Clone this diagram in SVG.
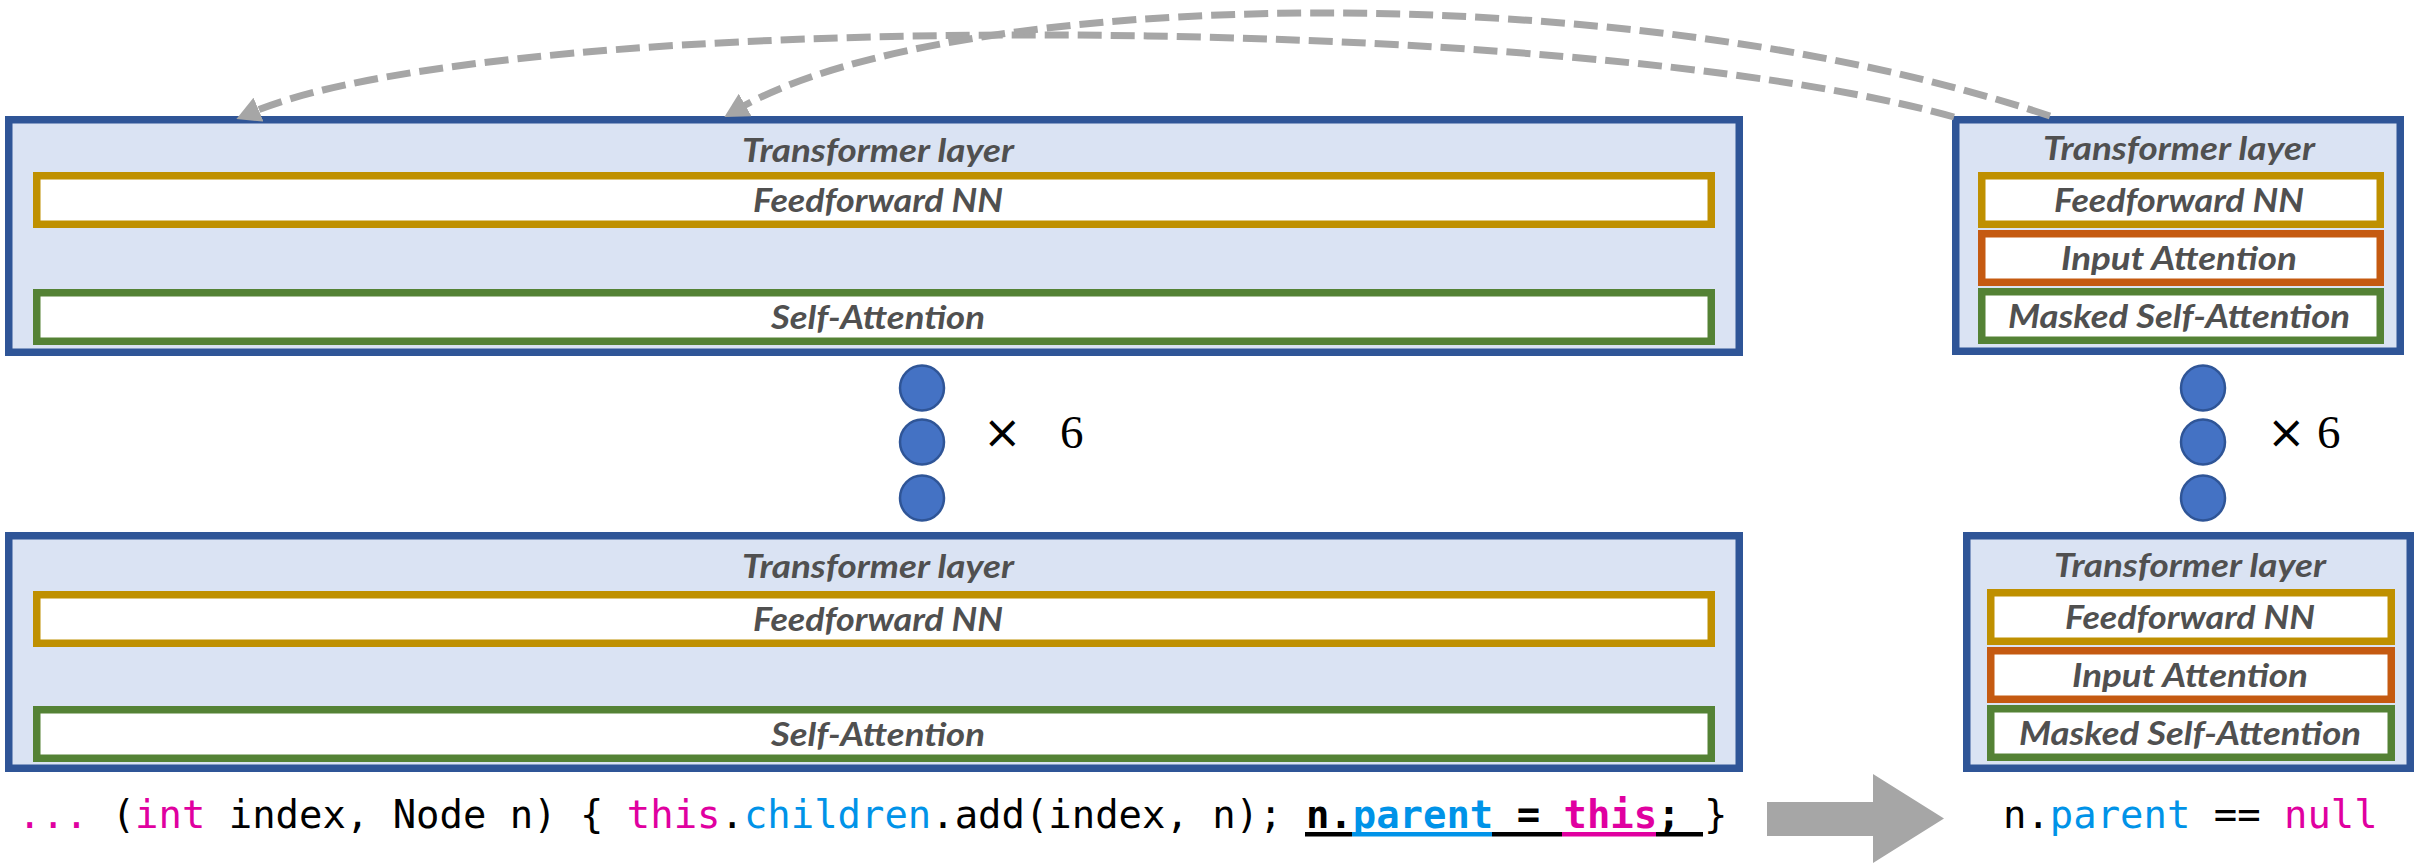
<svg xmlns="http://www.w3.org/2000/svg" width="2433" height="865" viewBox="0 0 2433 865">
  <style>
    .layer { fill: #DAE3F3; stroke: #2F5597; stroke-width: 7.5; }
    .ff { fill: #FFFFFF; stroke: #BF9000; stroke-width: 7.5; }
    .ia { fill: #FFFFFF; stroke: #C55A11; stroke-width: 7.5; }
    .sa { fill: #FFFFFF; stroke: #548235; stroke-width: 7.5; }
    .lbl { font-family: Lato, "Open Sans", "DejaVu Sans", sans-serif; font-weight: bold; font-style: italic; font-size: 33px; fill: #505050; text-anchor: middle; }
    .dot { fill: #4472C4; stroke: #2F5597; stroke-width: 2.5; }
    .times { font-family: "Liberation Serif", "DejaVu Serif", serif; font-size: 47px; fill: #000000; }
    .mul { font-family: "DejaVu Sans", sans-serif; font-size: 46px; }
    .code { font-family: "DejaVu Sans Mono", "Liberation Mono", monospace; font-size: 38.9px; fill: #000000; }
    .kw { fill: #E000A0; }
    .fld { fill: #0093E8; }
    .dash { fill: none; stroke: #A6A6A6; stroke-width: 7; stroke-dasharray: 24 9; marker-end: url(#ah); }
  </style>
  <defs>
    <marker id="ah" markerUnits="userSpaceOnUse" markerWidth="24" markerHeight="26" viewBox="0 0 24 26" refX="6" refY="13" orient="auto">
      <path d="M0,0 L24,13 L0,26 z" fill="#A6A6A6"/>
    </marker>
  </defs>

  <rect width="2433" height="865" fill="#FFFFFF"/>

  <!-- encoder stack: top layer -->
  <g id="enc-top">
    <rect class="layer" x="8.75" y="119.75" width="1730.5" height="232.5"/>
    <text class="lbl" x="878" y="162" textLength="272" lengthAdjust="spacingAndGlyphs">Transformer layer</text>
    <rect class="ff" x="36.75" y="175.75" width="1674.5" height="48.5"/>
    <text class="lbl" x="878" y="212" textLength="250" lengthAdjust="spacingAndGlyphs">Feedforward NN</text>
    <rect class="sa" x="36.75" y="292.75" width="1674.5" height="48.5"/>
    <text class="lbl" x="878" y="329" textLength="214" lengthAdjust="spacingAndGlyphs">Self-Attention</text>
  </g>

  <!-- encoder stack: repetition marker -->
  <g id="enc-repeat">
    <ellipse class="dot" cx="922" cy="388" rx="22" ry="22.5"/>
    <ellipse class="dot" cx="922" cy="442" rx="22" ry="22.5"/>
    <ellipse class="dot" cx="922" cy="498" rx="22" ry="22.5"/>
    <text class="times" y="448"><tspan class="mul" x="983">×</tspan><tspan x="1060">6</tspan></text>
  </g>

  <!-- encoder stack: bottom layer -->
  <g id="enc-bottom">
    <rect class="layer" x="8.75" y="535.75" width="1730.5" height="232.5"/>
    <text class="lbl" x="878" y="578" textLength="272" lengthAdjust="spacingAndGlyphs">Transformer layer</text>
    <rect class="ff" x="36.75" y="594.75" width="1674.5" height="48.5"/>
    <text class="lbl" x="878" y="631" textLength="250" lengthAdjust="spacingAndGlyphs">Feedforward NN</text>
    <rect class="sa" x="36.75" y="709.75" width="1674.5" height="48.5"/>
    <text class="lbl" x="878" y="746" textLength="214" lengthAdjust="spacingAndGlyphs">Self-Attention</text>
  </g>

  <!-- decoder stack: top layer -->
  <g id="dec-top">
    <rect class="layer" x="1955.75" y="119.75" width="444.5" height="231.5"/>
    <text class="lbl" x="2179" y="160" textLength="272" lengthAdjust="spacingAndGlyphs">Transformer layer</text>
    <rect class="ff" x="1981.75" y="175.75" width="398.5" height="48.5"/>
    <text class="lbl" x="2179" y="211.5" textLength="250" lengthAdjust="spacingAndGlyphs">Feedforward NN</text>
    <rect class="ia" x="1981.75" y="233.75" width="398.5" height="48.5"/>
    <text class="lbl" x="2179" y="269.5" textLength="236" lengthAdjust="spacingAndGlyphs">Input Attention</text>
    <rect class="sa" x="1981.75" y="291.75" width="398.5" height="48.5"/>
    <text class="lbl" x="2179" y="327.5" textLength="342" lengthAdjust="spacingAndGlyphs">Masked Self-Attention</text>
  </g>

  <!-- decoder stack: repetition marker -->
  <g id="dec-repeat">
    <ellipse class="dot" cx="2203" cy="388" rx="22" ry="22.5"/>
    <ellipse class="dot" cx="2203" cy="442" rx="22" ry="22.5"/>
    <ellipse class="dot" cx="2203" cy="498" rx="22" ry="22.5"/>
    <text class="times" y="448"><tspan class="mul" x="2267">×</tspan><tspan x="2317">6</tspan></text>
  </g>

  <!-- decoder stack: bottom layer -->
  <g id="dec-bottom">
    <rect class="layer" x="1966.75" y="535.75" width="443.5" height="232.5"/>
    <text class="lbl" x="2190" y="577" textLength="272" lengthAdjust="spacingAndGlyphs">Transformer layer</text>
    <rect class="ff" x="1990.75" y="592.75" width="400.5" height="48.5"/>
    <text class="lbl" x="2190" y="628.5" textLength="250" lengthAdjust="spacingAndGlyphs">Feedforward NN</text>
    <rect class="ia" x="1990.75" y="650.75" width="400.5" height="48.5"/>
    <text class="lbl" x="2190" y="686.5" textLength="236" lengthAdjust="spacingAndGlyphs">Input Attention</text>
    <rect class="sa" x="1990.75" y="708.75" width="400.5" height="48.5"/>
    <text class="lbl" x="2190" y="744.5" textLength="342" lengthAdjust="spacingAndGlyphs">Masked Self-Attention</text>
  </g>

  <!-- input source snippet with the masked statement underlined -->
  <g id="code-input">
    <text class="code" x="18" y="828" xml:space="preserve"><tspan class="kw">...</tspan> (<tspan class="kw">int</tspan> index, Node n) { <tspan class="kw">this</tspan>.<tspan class="fld">children</tspan>.add(index, n); <tspan font-weight="bold">n.<tspan class="fld">parent</tspan> = <tspan class="kw">this</tspan>; </tspan>}</text>
    <rect x="1305" y="832" width="47" height="4.5" fill="#000000"/>
    <rect x="1352" y="832" width="140" height="4.5" fill="#0093E8"/>
    <rect x="1492" y="832" width="70" height="4.5" fill="#000000"/>
    <rect x="1562" y="832" width="94" height="4.5" fill="#E000A0"/>
    <rect x="1656" y="832" width="47" height="4.5" fill="#000000"/>
  </g>

  <!-- transformation arrow -->
  <g id="big-arrow">
    <polygon points="1767,802 1873,802 1873,774 1944,818.5 1873,863 1873,836 1767,836" fill="#A6A6A6"/>
  </g>

  <!-- predicted output -->
  <g id="code-output">
    <text class="code" x="2003" y="828" xml:space="preserve">n.<tspan class="fld">parent</tspan> == <tspan class="kw">null</tspan></text>
  </g>

  <!-- decoder-to-encoder attention connectors -->
  <g id="connectors">
    <path class="dash" d="M1954,117 C1572,10 503,7 253,112"/>
    <path class="dash" d="M2050,116 C1620,-28 950,-12 740,108"/>
  </g>
</svg>
